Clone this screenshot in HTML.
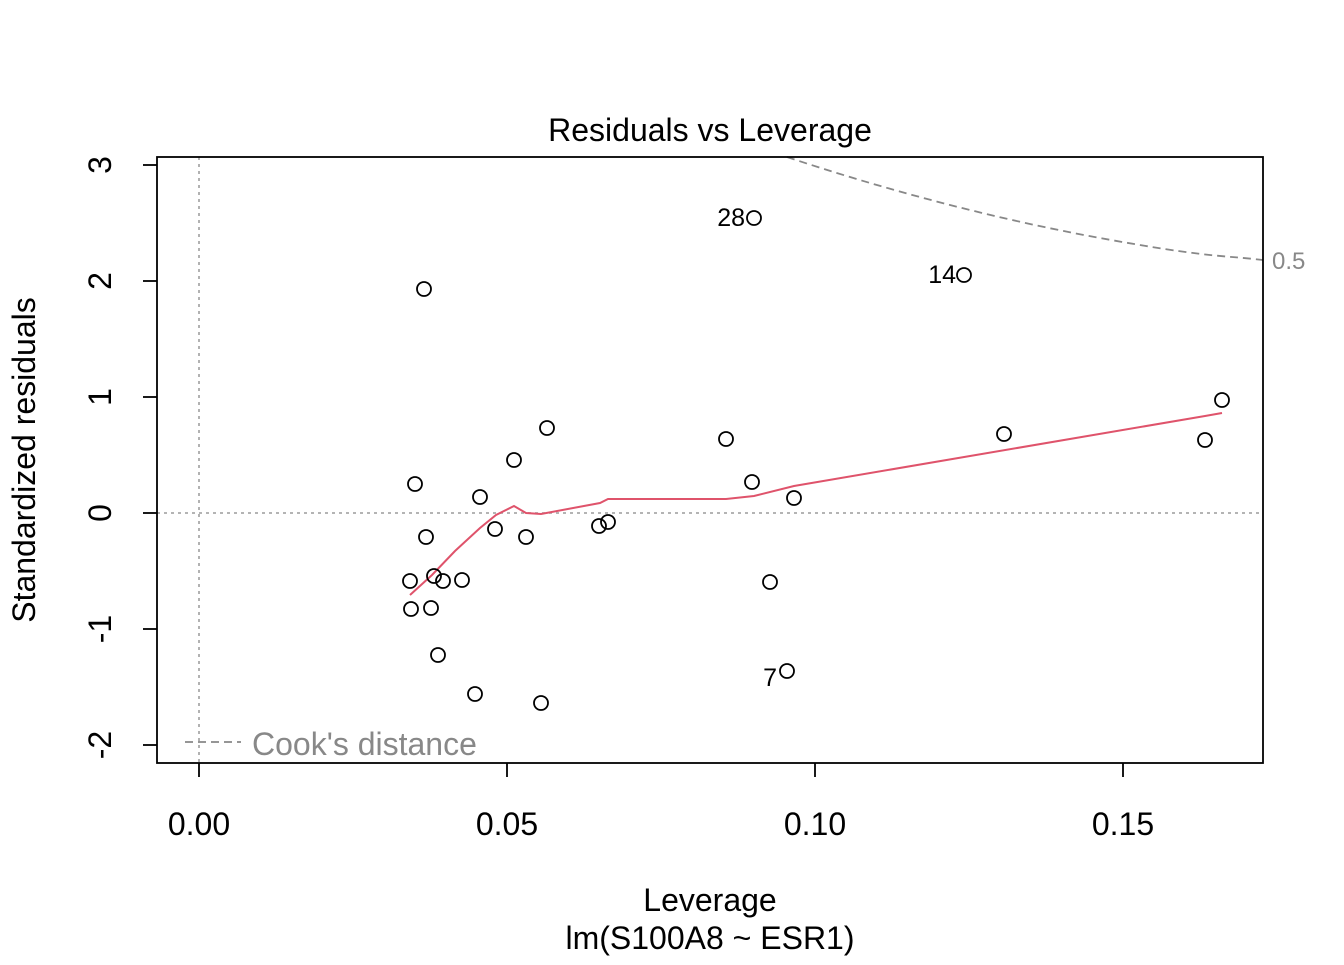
<!DOCTYPE html>
<html><head><meta charset="utf-8"><style>html,body{margin:0;padding:0;background:#fff}</style></head><body>
<svg width="1344" height="960" xmlns="http://www.w3.org/2000/svg" font-family="Liberation Sans, Arial, sans-serif">
<rect width="1344" height="960" fill="#fff"/>
<line x1="199" y1="157" x2="199" y2="763" stroke="#aaa" stroke-width="1.8" stroke-dasharray="3,4"/>
<line x1="157" y1="513" x2="1263" y2="513" stroke="#aaa" stroke-width="1.8" stroke-dasharray="3,4"/>
<path d="M787,157 C880,188 990,218 1100,238 S1220,255 1263,260" fill="none" stroke="#888" stroke-width="1.8" stroke-dasharray="8,5"/>
<text x="1272" y="269" font-size="24" fill="#888">0.5</text>
<polyline points="410,595 432,575 455,551 480,528 496,515 514,506 526,513 541,514 600,503 608,499 726,499 754,496 794,486 1205,416 1222,413" fill="none" stroke="#DF536B" stroke-width="2"/>
<g fill="none" stroke="#000" stroke-width="1.8">
<circle cx="754" cy="218" r="7"/><circle cx="964" cy="275" r="7"/><circle cx="424" cy="289" r="7"/><circle cx="1222" cy="400" r="7"/><circle cx="547" cy="428" r="7"/><circle cx="726" cy="439" r="7"/><circle cx="1004" cy="434" r="7"/><circle cx="1205" cy="440" r="7"/><circle cx="514" cy="460" r="7"/><circle cx="415" cy="484" r="7"/><circle cx="752" cy="482" r="7"/><circle cx="480" cy="497" r="7"/><circle cx="794" cy="498" r="7"/><circle cx="495" cy="529" r="7"/><circle cx="608" cy="522" r="7"/><circle cx="599" cy="526" r="7"/><circle cx="426" cy="537" r="7"/><circle cx="526" cy="537" r="7"/><circle cx="410" cy="581" r="7"/><circle cx="434" cy="576" r="7"/><circle cx="443" cy="581" r="7"/><circle cx="462" cy="580" r="7"/><circle cx="770" cy="582" r="7"/><circle cx="411" cy="609" r="7"/><circle cx="431" cy="608" r="7"/><circle cx="438" cy="655" r="7"/><circle cx="475" cy="694" r="7"/><circle cx="541" cy="703" r="7"/><circle cx="787" cy="671" r="7"/>
</g>
<g font-size="25" fill="#000" text-anchor="end">
<text x="745" y="226">28</text><text x="956" y="283">14</text><text x="777" y="686">7</text>
</g>
<rect x="157" y="157" width="1106" height="606" fill="none" stroke="#000" stroke-width="1.8"/>
<g stroke="#000" stroke-width="1.8">
<line x1="199" y1="763" x2="199" y2="777"/><line x1="507" y1="763" x2="507" y2="777"/><line x1="815" y1="763" x2="815" y2="777"/><line x1="1123" y1="763" x2="1123" y2="777"/>
<line x1="143" y1="165" x2="157" y2="165"/><line x1="143" y1="281" x2="157" y2="281"/><line x1="143" y1="397" x2="157" y2="397"/><line x1="143" y1="513" x2="157" y2="513"/><line x1="143" y1="629" x2="157" y2="629"/><line x1="143" y1="745" x2="157" y2="745"/>
</g>
<g font-size="32" text-anchor="middle" fill="#000">
<text x="199" y="835">0.00</text><text x="507" y="835">0.05</text><text x="815" y="835">0.10</text><text x="1123" y="835">0.15</text>
<text transform="translate(111,165) rotate(-90)">3</text>
<text transform="translate(111,281) rotate(-90)">2</text>
<text transform="translate(111,397) rotate(-90)">1</text>
<text transform="translate(111,513) rotate(-90)">0</text>
<text transform="translate(111,629) rotate(-90)">-1</text>
<text transform="translate(111,745) rotate(-90)">-2</text>
<text x="710" y="141">Residuals vs Leverage</text>
<text x="710" y="911">Leverage</text>
<text x="710" y="949">lm(S100A8 ~ ESR1)</text>
<text transform="translate(35,460) rotate(-90)">Standardized residuals</text>
</g>
<line x1="185" y1="742" x2="241" y2="742" stroke="#888" stroke-width="1.8" stroke-dasharray="8,5"/>
<text x="252" y="755" font-size="32" fill="#888">Cook's distance</text>
</svg>
</body></html>
